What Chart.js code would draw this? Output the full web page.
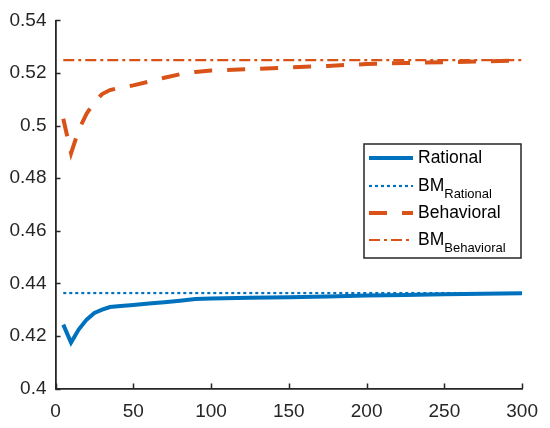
<!DOCTYPE html>
<html>
<head>
<meta charset="utf-8">
<script src="https://cdn.jsdelivr.net/npm/chart.js@4.4.1/dist/chart.umd.min.js"></script>
<style>
  html, body { margin: 0; padding: 0; background: #fff; }
  #wrap { width: 550px; height: 428px; }
</style>
</head>
<body>
<div id="wrap"><canvas id="chart" width="550" height="428"></canvas></div>
<script>
  // Data
  const xs = [5, 10, 15, 20, 25, 30, 35, 40, 50, 60, 70, 80, 90, 100, 125, 150, 175, 200, 225, 250, 275, 300];
  const rational = [0.4243, 0.4175, 0.4225, 0.4262, 0.4287, 0.4300, 0.4310, 0.4313, 0.4318, 0.4323, 0.4328,
    0.4334, 0.4340, 0.4342, 0.4345, 0.4347, 0.4350, 0.4354, 0.4356, 0.4358, 0.4360, 0.4362];
  const behavioral = [0.5026, 0.4895, 0.4985, 0.5045, 0.5090, 0.5120, 0.5135, 0.5142, 0.5153, 0.5167, 0.5182,
    0.5195, 0.5204, 0.5209, 0.5215, 0.5221, 0.5227, 0.5234, 0.5238, 0.5241, 0.5244, 0.5248];
  const bmRational = 0.4363;
  const bmBehavioral = 0.5249;

  const xTicks = [0, 50, 100, 150, 200, 250, 300];
  const yTicks = [0.4, 0.42, 0.44, 0.46, 0.48, 0.5, 0.52, 0.54];

  const legendMain = ['Rational', 'BM', 'Behavioral', 'BM'];
  const legendSub = ['', 'Rational', '', 'Behavioral'];

  const blue = '#0072BD';
  const orange = '#D95319';
  const axisColor = '#262626';
  const font = 'Liberation Sans, Arial, sans-serif';

  function pts(ys) {
    return xs.map((x, i) => ({ x: x, y: ys[i] }));
  }
  function flat(v) {
    return [{ x: xs[0], y: v }, { x: xs[xs.length - 1], y: v }];
  }

  // Ticks pointing into the plot, like MATLAB
  const innerTicks = {
    id: 'innerTicks',
    afterDatasetsDraw(chart) {
      const { ctx, chartArea, scales } = chart;
      ctx.save();
      ctx.strokeStyle = axisColor;
      ctx.lineWidth = 1.5;
      ctx.beginPath();
      yTicks.forEach(v => {
        const y = Math.round(scales.y.getPixelForValue(v)) + 0.5;
        ctx.moveTo(chartArea.left, y);
        ctx.lineTo(chartArea.left + 5, y);
      });
      xTicks.forEach(v => {
        const x = Math.round(scales.x.getPixelForValue(v)) + 0.5;
        ctx.moveTo(x, chartArea.bottom);
        ctx.lineTo(x, chartArea.bottom - 5);
      });
      ctx.stroke();
      ctx.restore();
    }
  };

  // Legend with subscripts
  const subLegend = {
    id: 'subLegend',
    afterDraw(chart) {
      const ctx = chart.ctx;
      const box = { x: 364, y: 144, w: 157, h: 114 };
      const rows = [158, 186, 213, 240];
      ctx.save();
      ctx.fillStyle = '#fff';
      ctx.fillRect(box.x, box.y, box.w, box.h);
      ctx.strokeStyle = axisColor;
      ctx.lineWidth = 1.5;
      ctx.strokeRect(box.x, box.y, box.w, box.h);
      chart.data.datasets.forEach((ds, i) => {
        const y = rows[i];
        ctx.beginPath();
        ctx.strokeStyle = ds.borderColor;
        ctx.lineWidth = ds.borderWidth;
        ctx.setLineDash(ds.borderDash || []);
        ctx.moveTo(369, y);
        ctx.lineTo(413, y);
        ctx.stroke();
        ctx.setLineDash([]);
        ctx.fillStyle = '#000';
        ctx.textBaseline = 'middle';
        ctx.font = '17.5px ' + font;
        ctx.fillText(legendMain[i], 418, y);
        if (legendSub[i]) {
          const w = ctx.measureText(legendMain[i]).width;
          ctx.font = '13px ' + font;
          ctx.fillText(legendSub[i], 418 + w, y + 8);
        }
      });
      ctx.restore();
    }
  };

  new Chart(document.getElementById('chart'), {
    type: 'line',
    data: {
      datasets: [
        { label: 'Rational', data: pts(rational), borderColor: blue, borderWidth: 4, borderDash: [] },
        { label: 'BMRational', data: flat(bmRational), borderColor: blue, borderWidth: 2.2, borderDash: [3, 3] },
        { label: 'Behavioral', data: pts(behavioral), borderColor: orange, borderWidth: 4, borderDash: [18, 15] },
        { label: 'BMBehavioral', data: flat(bmBehavioral), borderColor: orange, borderWidth: 2.2, borderDash: [11, 4, 3, 4] }
      ]
    },
    options: {
      responsive: false,
      animation: false,
      devicePixelRatio: 1,
      layout: { padding: { top: 13, right: 19, left: 0, bottom: 0 } },
      elements: {
        point: { radius: 0 },
        line: { tension: 0, borderCapStyle: 'butt', borderJoinStyle: 'miter', fill: false }
      },
      plugins: {
        legend: { display: false },
        tooltip: { enabled: false }
      },
      scales: {
        x: {
          type: 'linear',
          min: 0,
          max: 300,
          afterBuildTicks: s => { s.ticks = xTicks.map(v => ({ value: v })); },
          afterFit: s => { s.height = 39.5; },
          grid: { display: false, drawTicks: false },
          border: { display: true, color: axisColor, width: 1.8 },
          ticks: { color: axisColor, padding: 12, font: { family: font, size: 19 }, maxRotation: 0 }
        },
        y: {
          type: 'linear',
          min: 0.4,
          max: 0.54,
          afterBuildTicks: s => { s.ticks = yTicks.map(v => ({ value: v })); },
          afterFit: s => { s.width = 55.5; },
          grid: { display: false, drawTicks: false },
          border: { display: true, color: axisColor, width: 1.8 },
          ticks: { color: axisColor, padding: 9, font: { family: font, size: 19 },
            callback: v => String(Math.round(v * 100) / 100) }
        }
      }
    },
    plugins: [innerTicks, subLegend]
  });
</script>
</body>
</html>
